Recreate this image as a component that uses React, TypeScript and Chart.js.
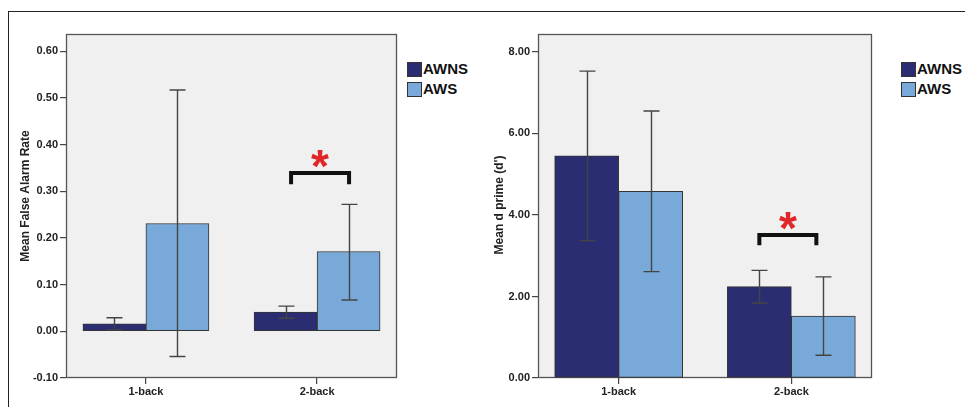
import React, { useEffect, useRef } from "react";
import { Chart, registerables } from "chart.js";

Chart.register(...registerables);

// ---------------- Data ----------------
const categories = ["1-back", "2-back"];
const seriesNames = ["AWNS", "AWS"];

const falseAlarmAWNS = [0.016, 0.041];
const falseAlarmAWNSLow = [0.003, 0.028];
const falseAlarmAWNSHigh = [0.029, 0.054];
const falseAlarmAWS = [0.231, 0.171];
const falseAlarmAWSLow = [-0.054, 0.067];
const falseAlarmAWSHigh = [0.517, 0.272];
const falseAlarmTicks = [-0.1, 0.0, 0.1, 0.2, 0.3, 0.4, 0.5, 0.6];

const dPrimeAWNS = [5.45, 2.24];
const dPrimeAWNSLow = [3.37, 1.84];
const dPrimeAWNSHigh = [7.53, 2.64];
const dPrimeAWS = [4.58, 1.52];
const dPrimeAWSLow = [2.61, 0.56];
const dPrimeAWSHigh = [6.55, 2.48];
const dPrimeTicks = [0, 2, 4, 6, 8];

const COLORS = ["#2b2d73", "#78a9d8"];
const FONT = "'Liberation Sans', Arial, Helvetica, sans-serif";

type Cfg = {
  left: number;
  top: number;
  width: number;
  height: number;
  yWidth: number;
  titleX: number;
  titleY: number;
  title: string;
  min: number;
  max: number;
  ticks: number[];
  values: number[][];
  lows: number[][];
  highs: number[][];
  barThickness: number;
  sig: { index: number; x1: number; x2: number; yTop: number; yLeg: number };
};

function makePlugins(cfg: Cfg) {
  return [
    {
      id: "plotBg",
      beforeDraw(chart: any) {
        const { ctx, chartArea: a } = chart;
        ctx.save();
        ctx.fillStyle = "#f0f0f0";
        ctx.fillRect(a.left, a.top, a.right - a.left, a.bottom - a.top);
        ctx.restore();
      },
      beforeDatasetsDraw(chart: any) {
        const { ctx, chartArea: a } = chart;
        ctx.save();
        ctx.strokeStyle = "#555";
        ctx.lineWidth = 1.3;
        ctx.strokeRect(a.left + 0.5, a.top + 0.5, a.right - a.left - 1, a.bottom - a.top - 1);
        ctx.restore();
      },
    },
    {
      id: "errorBars",
      afterDatasetsDraw(chart: any) {
        const { ctx } = chart;
        const y = chart.scales.y;
        ctx.save();
        ctx.strokeStyle = "#444";
        ctx.lineWidth = 1.4;
        chart.data.datasets.forEach((_ds: any, di: number) => {
          const meta = chart.getDatasetMeta(di);
          meta.data.forEach((bar: any, i: number) => {
            const x = Math.round(bar.x) + 0.5;
            const yl = y.getPixelForValue(cfg.lows[di][i]);
            const yh = y.getPixelForValue(cfg.highs[di][i]);
            ctx.beginPath();
            ctx.moveTo(x, yl);
            ctx.lineTo(x, yh);
            ctx.moveTo(x - 8, yh);
            ctx.lineTo(x + 8, yh);
            ctx.moveTo(x - 8, yl);
            ctx.lineTo(x + 8, yl);
            ctx.stroke();
          });
        });
        ctx.restore();
      },
    },
    {
      id: "yTitleAndSig",
      afterDraw(chart: any) {
        const { ctx } = chart;
        // y axis title
        ctx.save();
        ctx.translate(cfg.titleX, cfg.titleY);
        ctx.rotate(-Math.PI / 2);
        ctx.fillStyle = "#222";
        ctx.font = `bold 12px ${FONT}`;
        ctx.textAlign = "center";
        ctx.textBaseline = "middle";
        ctx.fillText(cfg.title, 0, 0);
        ctx.restore();

        // significance bracket + asterisk
        const xs = chart.scales.x;
        const ys = chart.scales.y;
        const cx = xs.getPixelForValue(cfg.sig.index);
        const x1 = cx + cfg.sig.x1;
        const x2 = cx + cfg.sig.x2;
        const yt = ys.getPixelForValue(cfg.sig.yTop);
        const yl = ys.getPixelForValue(cfg.sig.yLeg);
        ctx.save();
        ctx.strokeStyle = "#111";
        ctx.lineWidth = 4;
        ctx.lineJoin = "miter";
        ctx.beginPath();
        ctx.moveTo(x1, yl);
        ctx.lineTo(x1, yt);
        ctx.lineTo(x2, yt);
        ctx.lineTo(x2, yl);
        ctx.stroke();
        ctx.fillStyle = "#e02626";
        ctx.font = `bold 46px ${FONT}`;
        ctx.textAlign = "center";
        ctx.textBaseline = "alphabetic";
        const m = ctx.measureText("*");
        const asc = m.actualBoundingBoxAscent;
        const desc = m.actualBoundingBoxDescent;
        const targetY = yt - 2 - 12;
        const baseY = targetY + (asc - desc) / 2;
        ctx.fillText("*", (x1 + x2) / 2, baseY);
        ctx.restore();
      },
    },
  ];
}

function BarChart({ cfg }: { cfg: Cfg }) {
  const ref = useRef<HTMLCanvasElement>(null);
  useEffect(() => {
    const chart = new Chart(ref.current as HTMLCanvasElement, {
      type: "bar",
      data: {
        datasets: seriesNames.map((name, i) => ({
          label: name,
          data: cfg.values[i].map((v, j) => ({ x: j, y: v })),
          backgroundColor: COLORS[i],
          borderColor: "#333",
          borderWidth: 1,
          borderSkipped: false,
          barThickness: cfg.barThickness,
        })),
      },
      options: {
        responsive: false,
        animation: false,
        events: [],
        layout: { padding: { left: 0, top: 23, right: 3, bottom: 0 } },
        plugins: {
          legend: { display: false },
          tooltip: { enabled: false },
        },
        scales: {
          x: {
            type: "linear",
            min: -0.467,
            max: 1.467,
            offset: false,
            border: { display: false },
            grid: {
              offset: false,
              drawOnChartArea: false,
              drawTicks: true,
              tickLength: 6,
              color: "#444",
              lineWidth: 1.2,
            },
            ticks: {
              padding: 1,
              color: "#222",
              font: { family: FONT, size: 11, weight: "bold" },
              maxRotation: 0,
              callback: (v: any) => categories[Math.round(Number(v))] ?? "",
            },
            afterBuildTicks(scale: any) {
              scale.ticks = categories.map((_c, i) => ({ value: i }));
            },
            afterFit(scale: any) {
              scale.height = 29;
            },
          },
          y: {
            type: "linear",
            min: cfg.min,
            max: cfg.max,
            border: { display: false },
            grid: {
              drawOnChartArea: false,
              drawTicks: true,
              tickLength: 6,
              color: "#444",
              lineWidth: 1.2,
            },
            ticks: {
              padding: 2,
              color: "#222",
              font: { family: FONT, size: 11, weight: "bold" },
              callback: (v: any) => Number(v).toFixed(2),
            },
            afterBuildTicks(scale: any) {
              scale.ticks = cfg.ticks.map((v) => ({ value: v }));
            },
            afterFit(scale: any) {
              scale.width = cfg.yWidth;
            },
          },
        },
      } as any,
      plugins: makePlugins(cfg) as any,
    });
    return () => chart.destroy();
  }, []);
  return (
    <canvas
      ref={ref}
      width={cfg.width}
      height={cfg.height}
      style={{ position: "absolute", left: cfg.left, top: cfg.top, width: cfg.width, height: cfg.height }}
    />
  );
}

function Legend({ left, top }: { left: number; top: number }) {
  return (
    <div style={{ position: "absolute", left, top }}>
      {seriesNames.map((name, i) => (
        <div key={name} style={{ position: "relative", height: 20 }}>
          <div
            style={{
              position: "absolute",
              left: 0,
              top: 0,
              width: 13,
              height: 13,
              background: COLORS[i],
              border: "1px solid #333",
            }}
          />
          <div
            style={{
              position: "absolute",
              left: 16,
              top: -2,
              font: `bold 15px ${FONT}`,
              color: "#111",
              lineHeight: "18px",
              whiteSpace: "nowrap",
            }}
          >
            {name}
          </div>
        </div>
      ))}
    </div>
  );
}

const leftCfg: Cfg = {
  left: 8,
  top: 11,
  width: 392,
  height: 396,
  yWidth: 58,
  titleX: 18,
  titleY: 185,
  title: "Mean False Alarm Rate",
  min: -0.1,
  max: 0.637,
  ticks: falseAlarmTicks,
  values: [falseAlarmAWNS, falseAlarmAWS],
  lows: [falseAlarmAWNSLow, falseAlarmAWSLow],
  highs: [falseAlarmAWNSHigh, falseAlarmAWSHigh],
  barThickness: 63,
  sig: { index: 1, x1: -26, x2: 32, yTop: 0.339, yLeg: 0.315 },
};

const rightCfg: Cfg = {
  left: 470,
  top: 11,
  width: 405,
  height: 396,
  yWidth: 68,
  titleX: 30,
  titleY: 194,
  title: "Mean d prime (d')",
  min: 0,
  max: 8.44,
  ticks: dPrimeTicks,
  values: [dPrimeAWNS, dPrimeAWS],
  lows: [dPrimeAWNSLow, dPrimeAWSLow],
  highs: [dPrimeAWNSHigh, dPrimeAWSHigh],
  barThickness: 64,
  sig: { index: 1, x1: -32, x2: 25, yTop: 3.51, yLeg: 3.26 },
};

export default function App() {
  return (
    <div
      style={{
        position: "fixed",
        left: 0,
        top: 0,
        width: 965,
        height: 407,
        overflow: "hidden",
        background: "#fff",
      }}
    >
      <div
        style={{
          position: "absolute",
          left: 8,
          top: 11,
          width: 1200,
          height: 600,
          borderTop: "1px solid #222",
          borderLeft: "1px solid #222",
        }}
      />
      <BarChart cfg={leftCfg} />
      <BarChart cfg={rightCfg} />
      <Legend left={407} top={62} />
      <Legend left={901} top={62} />
    </div>
  );
}
